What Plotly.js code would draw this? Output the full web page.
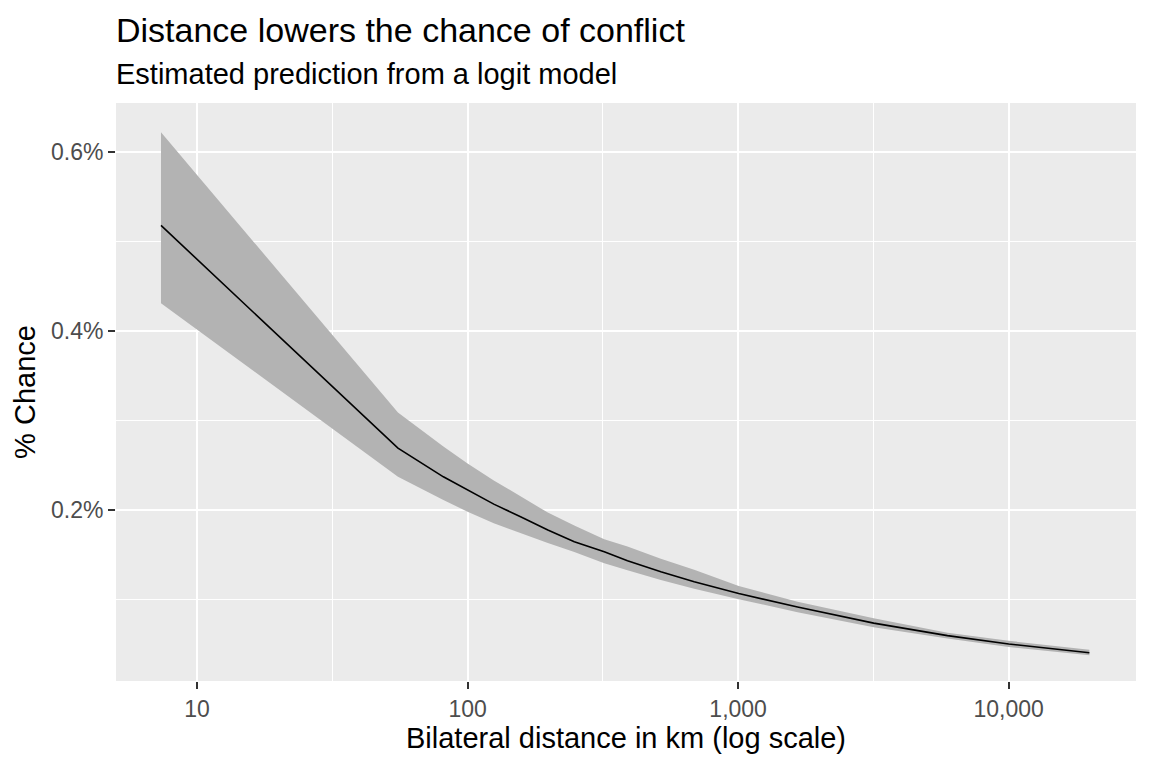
<!DOCTYPE html>
<html>
<head>
<meta charset="utf-8">
<script src="https://cdn.plot.ly/plotly-3.0.1.min.js"></script>
<style>
  html, body { margin: 0; padding: 0; background: #ffffff; }
  #chart { width: 1152px; height: 768px; }
</style>
</head>
<body>
<div id="chart"></div>
<script>
// Bilateral distance (km) and predicted % chance of conflict
const distance = [7.36, 55.3, 81.4, 100, 125, 157, 198, 248, 320, 390, 518, 688, 1005, 1658, 3170, 5940, 10000, 19870];
const fit      = [0.518, 0.269, 0.237, 0.2225, 0.2065, 0.1924, 0.1775, 0.1644, 0.1532, 0.1432, 0.1309, 0.1197, 0.1065, 0.0915, 0.0735, 0.0595, 0.0502, 0.0403];
const lower    = [0.431, 0.237, 0.211, 0.198, 0.185, 0.174, 0.163, 0.153, 0.1403, 0.1326, 0.1216, 0.112, 0.1003, 0.0857, 0.069, 0.0563, 0.0468, 0.0377];
const upper    = [0.622, 0.309, 0.271, 0.252, 0.2330, 0.215, 0.197, 0.1826, 0.1671, 0.159, 0.1455, 0.133, 0.115, 0.0975, 0.079, 0.0628, 0.0537, 0.0436];

const xTickVals = [10, 100, 1000, 10000];
const xTickText = ["10", "100", "1,000", "10,000"];
const xMinorVals = [3.1623, 31.623, 316.23, 3162.3, 31623];
const yTickVals = [0.2, 0.4, 0.6];
const yTickText = ["0.2%", "0.4%", "0.6%"];
const yMinorVals = [0.1, 0.3, 0.5];

const FONT = "Liberation Sans, Arial, sans-serif";

const traces = [
  {
    x: distance, y: lower, type: "scatter", mode: "lines",
    line: { width: 0, color: "rgba(0,0,0,0)" },
    hoverinfo: "skip", showlegend: false
  },
  {
    x: distance, y: upper, type: "scatter", mode: "lines",
    fill: "tonexty", fillcolor: "#B3B3B3",
    line: { width: 0, color: "rgba(0,0,0,0)" },
    hoverinfo: "skip", showlegend: false
  },
  {
    x: distance, y: fit, type: "scatter", mode: "lines",
    line: { color: "#000000", width: 1.6 },
    showlegend: false
  }
];

const layout = {
  width: 1152, height: 768,
  paper_bgcolor: "#FFFFFF",
  plot_bgcolor: "#EBEBEB",
  margin: { l: 116, r: 16, t: 103, b: 87, pad: 0 },
  font: { family: FONT, color: "#000000" },
  title: {
    text: "Distance lowers the chance of conflict",
    font: { family: FONT, size: 34, color: "#000000" },
    x: 116 / 1152, xref: "container", xanchor: "left",
    y: 1 - 30 / 768, yref: "container", yanchor: "middle"
  },
  annotations: [{
    text: "Estimated prediction from a logit model",
    xref: "paper", yref: "paper", x: 0, y: 1.05,
    xanchor: "left", yanchor: "middle", showarrow: false,
    xshift: -2,
    font: { family: FONT, size: 29, color: "#000000" }
  }],
  xaxis: {
    type: "log",
    range: [0.7006, 4.4705],
    tickmode: "array", tickvals: xTickVals, ticktext: xTickText,
    ticks: "outside", ticklen: 7, tickwidth: 2, tickcolor: "#333333",
    tickfont: { family: FONT, size: 23, color: "#4D4D4D" },
    showgrid: true, gridcolor: "#FFFFFF", gridwidth: 2,
    minor: { tickmode: "array", tickvals: xMinorVals, showgrid: true, gridcolor: "#FFFFFF", gridwidth: 1, ticks: "" },
    zeroline: false, showline: false,
    title: { text: "Bilateral distance in km (log scale)", font: { family: FONT, size: 29, color: "#000000" }, standoff: 7 },
    automargin: false
  },
  yaxis: {
    range: [0.0088, 0.6548],
    tickmode: "array", tickvals: yTickVals, ticktext: yTickText,
    ticks: "outside", ticklen: 7, tickwidth: 2, tickcolor: "#333333",
    tickfont: { family: FONT, size: 23, color: "#4D4D4D" },
    showgrid: true, gridcolor: "#FFFFFF", gridwidth: 2,
    minor: { tickmode: "array", tickvals: yMinorVals, showgrid: true, gridcolor: "#FFFFFF", gridwidth: 1, ticks: "" },
    zeroline: false, showline: false,
    title: { text: "% Chance", font: { family: FONT, size: 29, color: "#000000" }, standoff: 6 },
    automargin: false
  }
};

Plotly.newPlot("chart", traces, layout, { displayModeBar: false, staticPlot: true });
</script>
</body>
</html>
